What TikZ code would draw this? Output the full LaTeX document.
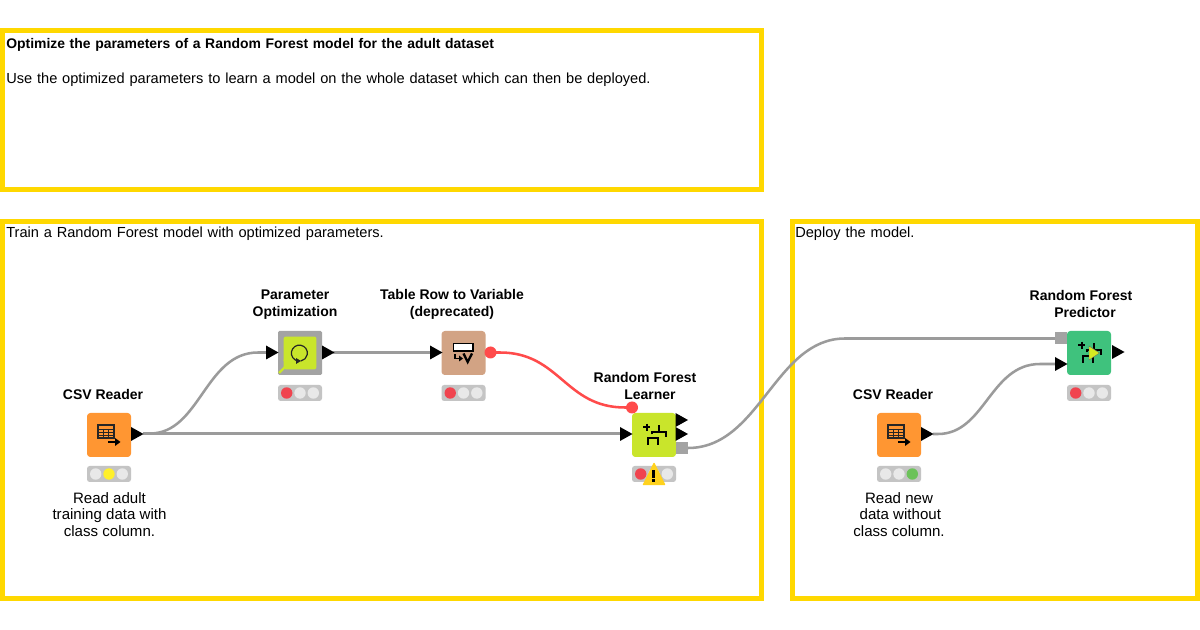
\documentclass[tikz,border=0pt]{standalone}
\usepackage{fontspec}
\setmainfont{Liberation Sans}
\definecolor{frameY}{HTML}{FFD800}
\definecolor{connG}{HTML}{9B9B9B}
\definecolor{portG}{HTML}{A3A3A3}
\definecolor{lightG}{HTML}{C4C4C4}
\definecolor{offW}{HTML}{E8E8E8}
\definecolor{redL}{HTML}{F0444F}
\definecolor{yelL}{HTML}{FFF02A}
\definecolor{grnL}{HTML}{6CC25A}
\definecolor{flowR}{HTML}{FF4B4B}
\definecolor{orangeN}{HTML}{FF9632}
\definecolor{limeN}{HTML}{C9E52B}
\definecolor{tanN}{HTML}{D2A384}
\definecolor{greenN}{HTML}{3FC27D}
\definecolor{warnY}{HTML}{FFD21E}
\tikzset{
  frame/.style={draw=frameY,line width=3.75pt,fill=white},
  frametext/.style={anchor=north west,inner sep=0pt,font=\fontsize{10.95}{15}\selectfont,align=left,text width=600pt},
  title/.style={inner sep=0pt,align=center,font=\fontsize{10.5}{13}\selectfont\bfseries},
  note/.style={inner sep=0pt,align=center,font=\fontsize{11.3}{12.4}\selectfont},
  knode/.style={minimum size=33pt,inner sep=0pt,rounded corners=2.5pt,line width=0pt},
  conn/.style={draw=connG,line width=1.9pt},
  flow/.style={draw=flowR,line width=1.9pt},
  tri/.style={fill=black,draw=none},
  gport/.style={fill=portG,draw=none,minimum size=9pt,inner sep=0pt},
  rport/.style={fill=flowR,draw=none,circle,minimum size=9pt,inner sep=0pt},
  ico/.style={draw=black,line width=1.7pt,fill=none},
  tricon/.pic={\fill[tri] (0,-7) -- (12.5,0) -- (0,7) -- cycle;},
}
% #1 node name, #2 x, #3 y, #4,#5,#6 light colours
\newcommand{\lights}[6]{%
  \fill[lightG,rounded corners=2pt] (#2-22,#3-8) rectangle (#2+22,#3+8);
  \fill[#4] (#2-13.3,#3) circle[radius=5.7];
  \fill[#5] (#2,#3) circle[radius=5.7];
  \fill[#6] (#2+13.3,#3) circle[radius=5.7];
}
\newcommand{\tableicon}[2]{%
  \draw[black!85,line width=0.8pt] (#1-8,#2-8) rectangle (#1+8,#2+5);
  \draw[black!85,line width=0.7pt] (#1-8,#2-4) -- (#1+8,#2-4) (#1-8,#2-.5) -- (#1+8,#2-.5) (#1-8,#2+2.2) -- (#1+8,#2+2.2) (#1-2.7,#2-4) -- (#1-2.7,#2+5) (#1+2.7,#2-4) -- (#1+2.7,#2+5);
  \draw[black,line width=1.3pt] (#1+2,#2+9) -- (#1+11,#2+9);
  \fill[black] (#1+9,#2+5) -- (#1+14.5,#2+9) -- (#1+9,#2+13) -- cycle;
}
\newcommand{\foresticon}[2]{%
  \draw[ico,line width=1.5pt] (#1-11,#2-7.7) -- (#1-3.6,#2-7.7) (#1-7.3,#2-11.4) -- (#1-7.3,#2-4);
  \draw[ico] (#1-2.3,#2-.5) -- (#1-2.3,#2-3.3) -- (#1+12,#2-3.3) -- (#1+12,#2+1.7);
  \draw[ico] (#1+4.7,#2-3.3) -- (#1+4.7,#2-9.5);
  \draw[ico] (#1-6.3,#2+10) -- (#1-6.3,#2+3.3) -- (#1+3.7,#2+3.3) -- (#1+3.7,#2+10);
}
\begin{document}
\begin{tikzpicture}[x=0.75pt,y=-0.75pt]
\useasboundingbox (0,0) rectangle (1200,630);
\fill[white] (0,0) rectangle (1200,630);
% frames
\draw[frame] (2.5,30.5) rectangle (761.5,189.5);
\draw[frame] (2.5,221.5) rectangle (761.5,598.5);
\draw[frame] (792.5,221.5) rectangle (1197.5,598.5);
\node[frametext,font=\fontsize{10.45}{15}\selectfont] (t1) at (6,38) {\textbf{Optimize the parameters of a Random Forest model for the adult dataset}};
\node[frametext] (t2) at (6,73) {Use the optimized parameters to learn a model on the whole dataset which can then be deployed.};
\node[frametext] (t3) at (6,227) {Train a Random Forest model with optimized parameters.};
\node[frametext,text width=300pt] (t4) at (795,227) {Deploy the model.};
% port coordinates
\coordinate (csvAout) at (143,433.5);
\coordinate (poIn) at (267,352.5);
\coordinate (poOut) at (333,352.5);
\coordinate (trvIn) at (430,352.5);
\coordinate (trvOut) at (490.5,352.5);
\coordinate (rflFlow) at (632,407.5);
\coordinate (rflIn) at (621,433.5);
\coordinate (rflOut) at (682,448);
\coordinate (rfpModel) at (1061,338.5);
\coordinate (rfpIn) at (1056,364);
\coordinate (csvBout) at (933,434);
% connectors
\draw[conn] (csvAout) -- (150,433.5) .. controls (200,433.5) and (205,352.5) .. (258,352.5) -- (poIn);
\draw[conn] (csvAout) -- (rflIn);
\draw[conn] (poOut) -- (trvIn);
\draw[flow] (trvOut) -- (500,352.5) .. controls (560,352.5) and (565,407.5) .. (625,407.5) -- (rflFlow);
\draw[conn] (rflOut) -- (688,448) .. controls (760,448) and (775,338.5) .. (845,338.5) -- (rfpModel);
\draw[conn] (csvBout) -- (938,434) .. controls (985,434) and (990,364) .. (1040,364) -- (rfpIn);
% nodes
\node[knode,fill=orangeN] (csvA) at (109,435) {};
\tableicon{106}{433}
\fill[portG,rounded corners=1pt] (278,331) rectangle (322,375);
\node[minimum size=24.5pt,inner sep=0pt,fill=limeN,rounded corners=1.5pt] (po) at (300,353) {};
\draw[black!85,line width=.9pt] (298,361) arc[start angle=100,end angle=440,radius=8];
\fill[black!85] (296,358) -- (301,361) -- (296,364) -- cycle;
\draw[limeN,line width=1.8pt] (279,373) -- (288,364);
\fill[limeN] (283,360) -- (292,360) -- (292,369) -- cycle;
\node[knode,fill=tanN] (trv) at (463.5,353) {};
\fill[white] (453.5,343.5) rectangle (473,351);
\draw[black,line width=1.1pt] (453.5,343.5) rectangle (473,351);
\draw[black,line width=1.2pt] (455,354.5) -- (455,358.5) -- (461,358.5);
\fill[black] (459,355.5) -- (463,358.5) -- (459,361.5) -- cycle;
\draw[black,line width=1.7pt] (463.5,353.5) -- (467.7,362) -- (472,353.5);
\node[knode,fill=limeN] (rfl) at (654,435) {};
\foresticon{654}{435}
\node[knode,fill=greenN] (rfp) at (1089,353) {};
\foresticon{1089}{353}
\fill[limeN!80!yellow,draw=black!60,line width=.3pt] (1089,346) -- (1099.5,353) -- (1089,360) -- cycle;
\node[knode,fill=orangeN] (csvB) at (899,435) {};
\tableicon{896}{433}
% ports
\pic at (131,434) {tricon};
\pic at (266,352.5) {tricon};
\pic at (322,352.5) {tricon};
\pic at (430,352.5) {tricon};
\pic at (620,434) {tricon};
\pic at (675.5,420) {tricon};
\pic at (675.5,434) {tricon};
\pic at (1055,364) {tricon};
\pic at (1112,352) {tricon};
\pic at (921,434) {tricon};
\node[rport] (trvP) at (trvOut) {};
\node[rport] (rflP) at (rflFlow) {};
\node[gport] (rflM) at (rflOut) {};
\node[gport] (rfpM) at (rfpModel) {};
% lights
\lights{csvA}{109}{474}{offW}{yelL}{offW}
\lights{po}{300}{393}{redL}{offW}{offW}
\lights{trv}{463.5}{393}{redL}{offW}{offW}
\lights{rfl}{654}{474}{redL}{offW}{offW}
\lights{rfp}{1089}{393}{redL}{offW}{offW}
\lights{csvB}{899}{474}{offW}{offW}{grnL}
% warning
\fill[warnY,draw=warnY,line width=1pt,line join=round] (654,463.5) -- (664.5,484.5) -- (643.5,484.5) -- cycle;
\fill[black] (652.4,470) rectangle (655.4,478);
\fill[black] (652.4,479.5) rectangle (655.4,482.5);
% titles
\node[title] (l1) at (103,394.5) {CSV Reader};
\node[title] (l2) at (295,304.5) {Parameter\\Optimization};
\node[title] (l3) at (452,304.5) {Table Row to Variable\\(deprecated)};
\node[title] (l4) at (645,386) {Random Forest\\\hspace{7.5pt}Learner};
\node[title] (l5) at (1081,304) {Random Forest\\\hspace{6pt}Predictor};
\node[title] (l6) at (893,394.5) {CSV Reader};
% notes
\node[note] (n1) at (109.5,514.5) {Read adult\\training data with\\class column.};
\node[note] (n2) at (899,514.5) {Read new\\\hspace{2pt}data without\\class column.};
\end{tikzpicture}
\end{document}
